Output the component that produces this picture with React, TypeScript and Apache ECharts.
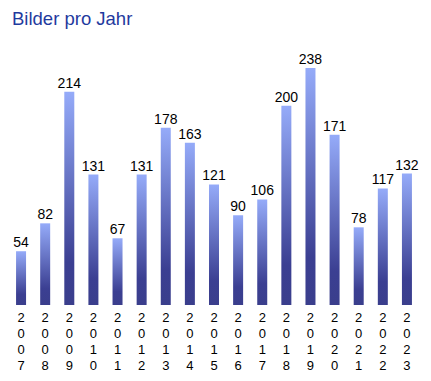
import React, { useEffect, useRef } from "react";
import * as echarts from "echarts";

const years = ["2007","2008","2009","2010","2011","2012","2013","2014","2015","2016","2017","2018","2019","2020","2021","2022","2023"];
const counts = [54, 82, 214, 131, 67, 131, 178, 163, 121, 90, 106, 200, 238, 171, 78, 117, 132];

export default function App() {
  const ref = useRef<HTMLDivElement>(null);
  useEffect(() => {
    if (!ref.current) return;
    const chart = echarts.init(ref.current, null, { renderer: "svg" });
    chart.setOption({
      animation: false,
      title: {
        text: "Bilder pro Jahr",
        left: -1,
        top: -4,
        textStyle: { color: "#1f3a9e", fontSize: 18.5, fontWeight: "normal", fontFamily: "Liberation Sans, Arial, sans-serif" },
      },
      grid: { left: 1, right: 4, top: 48, bottom: 67 },
      xAxis: {
        type: "category",
        data: years,
        axisLine: { show: false },
        axisTick: { show: false },
        axisLabel: {
          interval: 0,
          margin: 4,
          color: "#000",
          fontSize: 13,
          lineHeight: 16,
          fontFamily: "Liberation Sans, Arial, sans-serif",
          formatter: (v: string) => v.split("").join("\n"),
        },
      },
      yAxis: { type: "value", min: 0, max: 250, show: false, splitLine: { show: false } },
      series: [
        {
          type: "bar",
          data: counts,
          barWidth: 10,
          itemStyle: {
            color: new echarts.graphic.LinearGradient(0, 0, 0, 1, [
              { offset: 0, color: "#95abf9" },
              { offset: 0.8, color: "#3b3f92" },
              { offset: 1, color: "#3a3e8c" },
            ]),
          },
          label: {
            show: true,
            position: "top",
            distance: 2,
            color: "#000",
            fontSize: 14,
            fontFamily: "Liberation Sans, Arial, sans-serif",
          },
        },
      ],
    });
    return () => chart.dispose();
  }, []);
  return <div ref={ref} style={{ width: 415, height: 365 }} />;
}
